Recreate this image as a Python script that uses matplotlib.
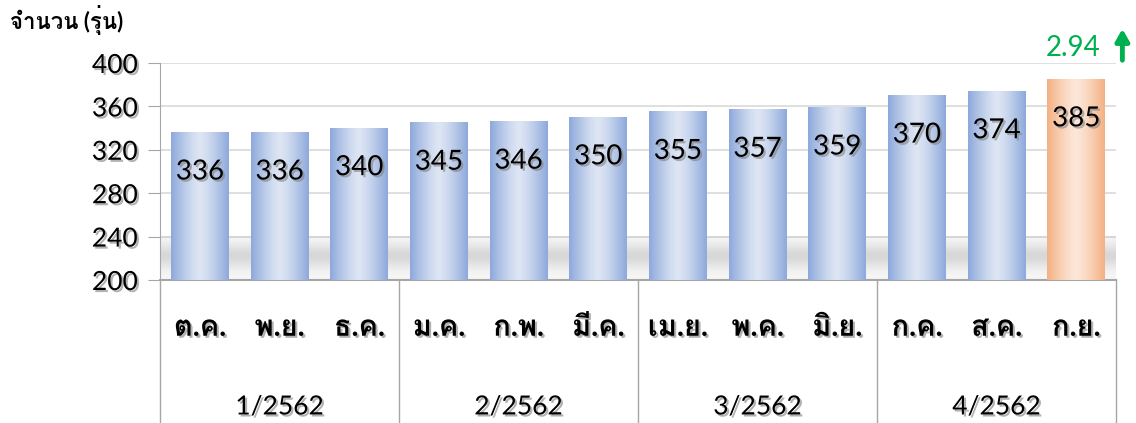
import numpy as np
import matplotlib
matplotlib.use("Agg")
import matplotlib.pyplot as plt
import matplotlib.patheffects as pe
from matplotlib import font_manager
from matplotlib.ft2font import FT2Font

months = ["ต.ค.", "พ.ย.", "ธ.ค.", "ม.ค.", "ก.พ.", "มี.ค.",
          "เม.ย.", "พ.ค.", "มิ.ย.", "ก.ค.", "ส.ค.", "ก.ย."]
values = [336, 336, 340, 345, 346, 350, 355, 357, 359, 370, 374, 385]
quarters = ["1/2562", "2/2562", "3/2562", "4/2562"]
yticks = [200, 240, 280, 320, 360, 400]
growth = "2.94"


def thai_fonts():
    found = []
    for f in font_manager.fontManager.ttflist:
        try:
            if 0x0E08 in FT2Font(f.fname).get_charmap():
                if f.name not in found:
                    found.append(f.name)
        except Exception:
            pass
    return found


fams = thai_fonts()
plt.rcParams["font.family"] = ["Lato"] + fams + ["DejaVu Sans"]

fig = plt.figure(figsize=(11.36, 4.23), dpi=100)
ax = fig.add_axes([160 / 1136, 1 - 280 / 423, 956 / 1136, 217 / 423])

x = np.arange(len(values))
ax.set_xlim(-0.5, len(values) - 0.5)
ax.set_ylim(200, 400)

# soft floor shadow behind the bars
hy = np.linspace(200, 240, 60)
dark = 0.22 * np.exp(-((hy - 222) / 11) ** 2) + 0.06
floor = np.ones((len(hy), 2, 4))
floor[..., :3] = 0.45
floor[..., 3] = dark[:, None]
ax.imshow(floor, extent=(-0.5, len(values) - 0.5, 200, 240), aspect="auto",
          origin="lower", zorder=1, interpolation="bicubic")

# gradient bars
blue_edge = np.array([0x8E, 0xA9, 0xDB]) / 255
blue_mid = np.array([0xDE, 0xE6, 0xF4]) / 255
org_edge = np.array([0xF4, 0xB1, 0x83]) / 255
org_mid = np.array([0xFC, 0xE7, 0xD9]) / 255
t = np.linspace(-1, 1, 64)
w = 1 - np.abs(t) ** 1.3
width = 0.72
shadow = [pe.withSimplePatchShadow(offset=(1.5, -1.5), shadow_rgbFace="#808080", alpha=0.6)]
for i, v in enumerate(values):
    edge, mid = (org_edge, org_mid) if i == len(values) - 1 else (blue_edge, blue_mid)
    grad = edge[None, :] * (1 - w[:, None]) + mid[None, :] * w[:, None]
    img = np.tile(grad[None, :, :], (2, 1, 1))
    ax.imshow(img, extent=(x[i] - width / 2, x[i] + width / 2, 200, v),
              aspect="auto", zorder=3, interpolation="bilinear")
    ax.text(x[i], v - 36, str(v), ha="center", va="center", fontsize=20,
            color="black", zorder=5, path_effects=shadow)

ax.set_xlim(-0.5, len(values) - 0.5)
ax.set_ylim(200, 400)

ax.set_yticks(yticks)
ax.set_yticklabels([str(v) for v in yticks], fontsize=19, path_effects=shadow)
ax.yaxis.grid(True, color="#D9D9D9", linewidth=1.2, zorder=0)
ax.set_axisbelow(True)
ax.tick_params(axis="y", direction="out", length=9, color="#A6A6A6", pad=7)
ax.tick_params(axis="x", bottom=False, labelbottom=False)
for s in ["top", "right"]:
    ax.spines[s].set_visible(False)
ax.spines["left"].set_color("#A6A6A6")
ax.spines["bottom"].set_color("#A6A6A6")
ax.spines["bottom"].set_linewidth(1.5)

# category and group axis below
for i, m in enumerate(months):
    ax.text(x[i], -0.22, m, transform=ax.get_xaxis_transform(), ha="center",
            va="center", fontsize=21, fontweight="bold", path_effects=shadow)
for g, q in enumerate(quarters):
    ax.text(3 * g + 1, -0.585, q, transform=ax.get_xaxis_transform(), ha="center",
            va="center", fontsize=19, path_effects=shadow)
for b in range(len(quarters) + 1):
    ax.plot([3 * b - 0.5] * 2, [0, -0.66], transform=ax.get_xaxis_transform(),
            color="#A6A6A6", linewidth=1, clip_on=False)

# growth annotation
ax.text(10.96, 1.07, growth, transform=ax.get_xaxis_transform(), ha="center",
        va="center", fontsize=20, color="#00B050")
ax.annotate("", xy=(11.58, 1.17), xytext=(11.58, 1.0),
            xycoords=ax.get_xaxis_transform(),
            arrowprops=dict(arrowstyle="-|>,head_width=0.4,head_length=0.7",
                            color="#00B050", lw=3.5), annotation_clip=False)

fig.text(10 / 1136, 1 - 20 / 423, "จำนวน (รุ่น)", ha="left", va="center",
         fontsize=16, fontweight="bold")

fig.savefig("out.png", dpi=100)
